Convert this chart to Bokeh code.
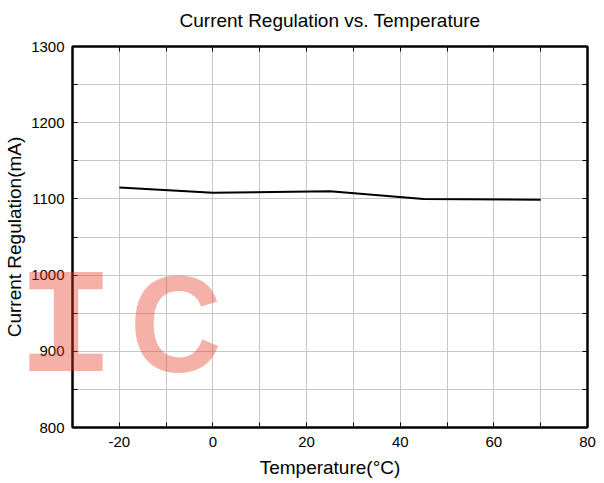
from bokeh.plotting import figure
from bokeh.models import FixedTicker, LinearAxis, Range1d, Div
from bokeh.layouts import column
from bokeh.embed import file_html
from bokeh.resources import INLINE

temperature = [-20, 0, 25, 45, 70]
current_ma = [1115, 1108, 1110, 1100, 1099]

x_major = [-20, 0, 20, 40, 60, 80]
x_minor = [-30, -10, 10, 30, 50, 70]
y_major = [800, 900, 1000, 1100, 1200, 1300]
y_minor = [850, 950, 1050, 1150, 1250]
x_labels = {-20: "-20", 0: "0", 20: "20", 40: "40", 60: "60", 80: "80"}

FONT = "Liberation Sans"
W, H = 596, 483

p = figure(width=W, height=H, output_backend="svg", toolbar_location=None,
           x_range=Range1d(-30, 80), y_range=Range1d(800, 1300),
           min_border_left=72, min_border_right=9, min_border_top=46, min_border_bottom=56)

p.title.text = "Current Regulation vs. Temperature"
p.title.text_font = FONT
p.title.text_font_size = "19px"
p.title.text_font_style = "normal"
p.title.align = "center"
p.title.text_color = "#000000"
p.title.standoff = 10

xt = FixedTicker(ticks=x_major, minor_ticks=x_minor)
yt = FixedTicker(ticks=y_major, minor_ticks=y_minor)
xt_top = FixedTicker(ticks=x_major, minor_ticks=sorted(x_major + x_minor))

p.xaxis.ticker = xt
p.yaxis.ticker = yt
p.xaxis.major_label_overrides = x_labels

for ax in (p.xaxis[0], p.yaxis[0]):
    ax.major_tick_in = 5
    ax.major_tick_out = 0
    ax.minor_tick_in = 5
    ax.minor_tick_out = 0
    ax.axis_line_width = 2
    ax.major_tick_line_width = 1
    ax.minor_tick_line_width = 1
    ax.major_label_text_font = FONT
    ax.major_label_text_font_size = "15px"
    ax.major_label_text_color = "#000000"
    ax.axis_label_text_font = FONT
    ax.axis_label_text_font_size = "19px"
    ax.axis_label_text_font_style = "normal"
    ax.axis_label_text_color = "#000000"

p.xaxis.axis_label = "Temperature(°C)"
p.yaxis.axis_label = "Current Regulation(mA)"
p.xaxis.major_label_standoff = 9
p.yaxis.major_label_standoff = 8
p.xaxis.axis_label_standoff = 7
p.yaxis.axis_label_standoff = 3

# top axis: visible inward ticks come from the minor ticks; the (invisible) major
# ticks reserve room above the frame so the title sits higher
top = LinearAxis(ticker=xt_top, major_label_overrides={t: "" for t in x_major},
                 major_tick_in=0, major_tick_out=11, major_tick_line_alpha=0,
                 major_label_standoff=0,
                 minor_tick_in=5, minor_tick_out=0, axis_line_width=2)
right = LinearAxis(ticker=yt, major_label_overrides={t: "" for t in y_major},
                   major_tick_in=5, major_tick_out=0, major_label_standoff=0,
                   minor_tick_in=5, minor_tick_out=0, axis_line_width=2)
p.add_layout(top, "above")
p.add_layout(right, "right")

for g, t in ((p.xgrid[0], xt), (p.ygrid[0], yt)):
    g.ticker = t
    g.grid_line_color = "#c8c8c8"
    g.grid_line_width = 1
    g.minor_grid_line_color = "#c8c8c8"
    g.minor_grid_line_width = 1

p.outline_line_color = "#000000"
p.outline_line_width = 2

p.line(temperature, current_ma, line_color="#000000", line_width=2)

# watermark overlay
base = "position:absolute; line-height:1; color:rgba(229,58,38,0.4); white-space:nowrap;"
i_style = (base + "font-family:'DejaVu Sans Mono'; font-weight:bold; font-size:136px; "
           "left:20px; top:251px; transform:scaleX(1.24); transform-origin:center;")
c_style = (base + "font-family:'Liberation Sans'; font-weight:bold; font-size:138px; "
           "left:125px; top:250px; transform:scaleX(0.92); transform-origin:left;")
wm_html = f'<span style="{i_style}">I</span><span style="{c_style}">C</span>'
wm = Div(text=wm_html, width=W, height=H,
         styles={"position": "absolute", "left": "0px", "top": "0px", "z-index": "10",
                 "pointer-events": "none", "overflow": "visible"})

layout = column(p, wm)
open("out.html", "w").write(file_html(layout, INLINE))
